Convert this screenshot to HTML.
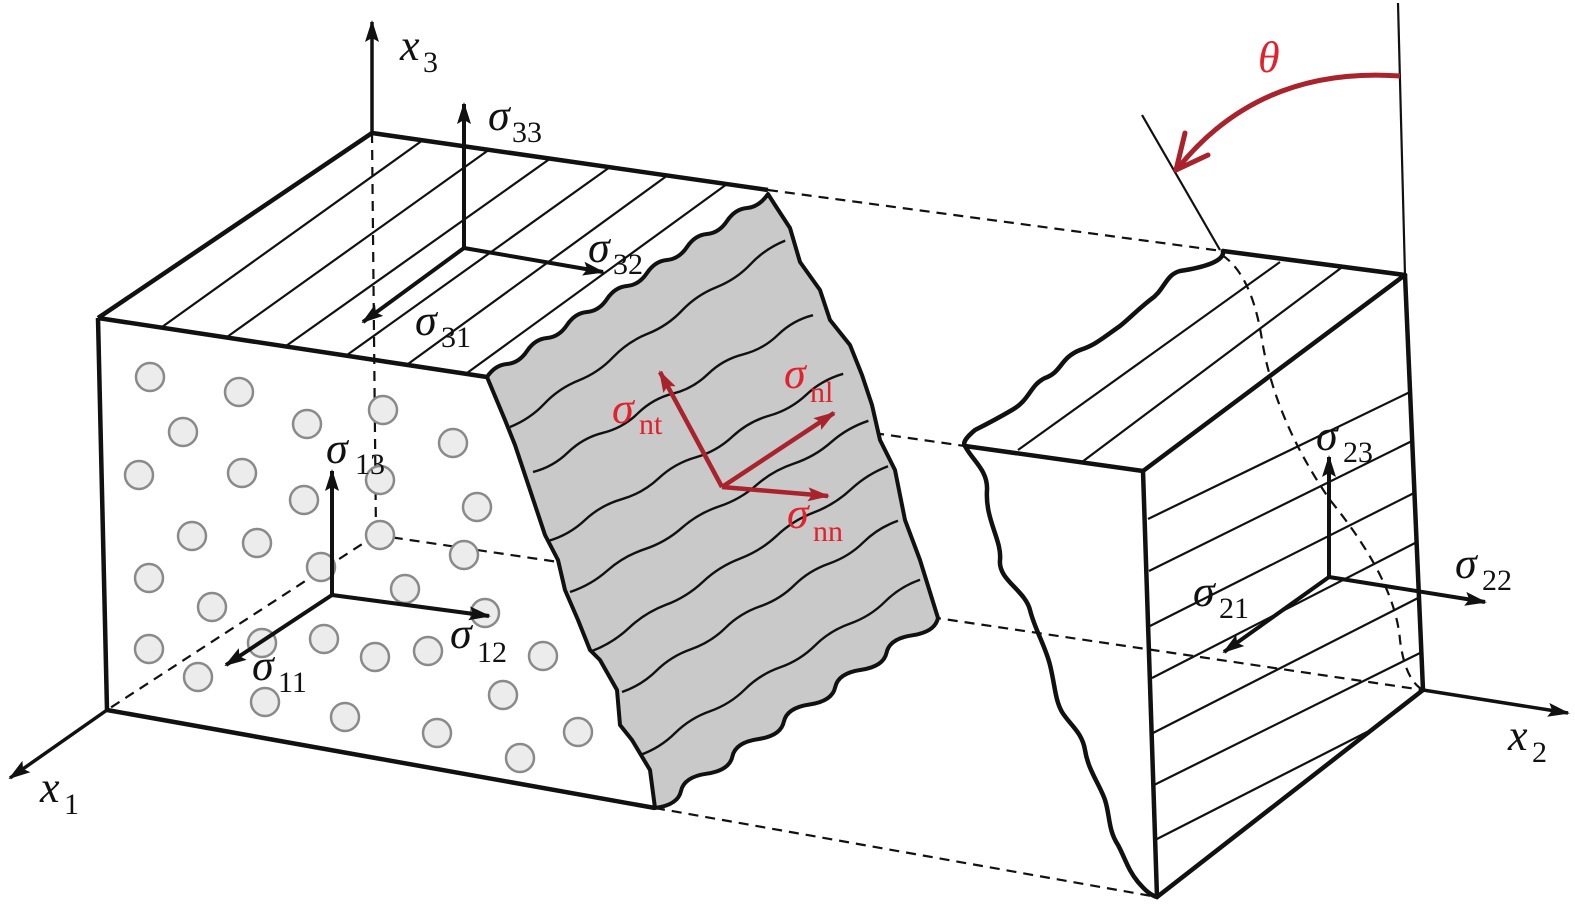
<!DOCTYPE html>
<html><head><meta charset="utf-8"><style>
html,body{margin:0;padding:0;background:#fff;}
svg{display:block;}
.t text{font-family:'Liberation Serif','DejaVu Serif',serif;}
.s{font-style:italic;font-size:44px;}
.b{font-size:30px;}
.r{fill:#e0222c;}
</style></head><body>
<svg width="1575" height="905" viewBox="0 0 1575 905" xmlns="http://www.w3.org/2000/svg">
<defs>
<marker id="ahb" markerWidth="22" markerHeight="14" refX="20" refY="7" orient="auto" markerUnits="userSpaceOnUse">
<path d="M0,0 L22,7 L0,14 L4,7 Z" fill="#111"/></marker>
<marker id="ahr" markerWidth="22" markerHeight="14" refX="20" refY="7" orient="auto" markerUnits="userSpaceOnUse">
<path d="M0,0 L22,7 L0,14 L4,7 Z" fill="#a8232c"/></marker>
</defs>

<g stroke="#111" stroke-width="2.2" stroke-dasharray="10,7" fill="none">
<line x1="372" y1="133" x2="376" y2="535"/>
<line x1="376" y1="535" x2="107" y2="710"/>
<line x1="376" y1="535" x2="1423" y2="690"/>
<line x1="768" y1="190" x2="1222" y2="251"/>
<line x1="487" y1="378" x2="965" y2="446"/>
<line x1="655" y1="808" x2="1157" y2="897"/>
<path d="M1222,255 Q1252,275 1262,340 Q1275,420 1330,500 Q1395,580 1400,640 Q1405,680 1423,690"/>
</g>

<g fill="#ececec" stroke="#8a8a8a" stroke-width="2.5">
<circle cx="150" cy="377" r="14"/><circle cx="239" cy="392" r="14"/><circle cx="183" cy="432" r="14"/>
<circle cx="307" cy="424" r="14"/><circle cx="383" cy="410" r="14"/><circle cx="453" cy="443" r="14"/>
<circle cx="139" cy="475" r="14"/><circle cx="242" cy="473" r="14"/><circle cx="304" cy="500" r="14"/>
<circle cx="380" cy="480" r="14"/><circle cx="477" cy="507" r="14"/><circle cx="192" cy="536" r="14"/>
<circle cx="257" cy="543" r="14"/><circle cx="380" cy="535" r="14"/><circle cx="464" cy="555" r="14"/>
<circle cx="149" cy="578" r="14"/><circle cx="321" cy="567" r="14"/><circle cx="212" cy="607" r="14"/>
<circle cx="405" cy="589" r="14"/><circle cx="485" cy="613" r="14"/><circle cx="149" cy="649" r="14"/>
<circle cx="262" cy="643" r="14"/><circle cx="324" cy="639" r="14"/><circle cx="375" cy="657" r="14"/>
<circle cx="428" cy="651" r="14"/><circle cx="543" cy="656" r="14"/><circle cx="198" cy="677" r="14"/>
<circle cx="265" cy="702" r="14"/><circle cx="345" cy="717" r="14"/><circle cx="437" cy="733" r="14"/>
<circle cx="503" cy="695" r="14"/><circle cx="578" cy="732" r="14"/><circle cx="520" cy="758" r="14"/>
</g>

<path fill="#c9c9c9" stroke="#111" stroke-width="4" stroke-linejoin="round"
d="M487,377 q8,-12 20,-13 t20,-13 t20,-13 t20,-13 t20,-13 t20,-13 t20,-13 t20,-13 t20,-13 t20,-13 t20,-13 t20,-13 t20,-13 t21,-14
L775,205 L790,228 L800,262 L820,290 L830,320 L850,345 L862,375 L872,405 L880,440 L895,470 L905,520 L920,560 L938,618
q-3,14 -25.7,17.3 t-25.7,17.3 t-25.7,17.3 t-25.7,17.3 t-25.7,17.3 t-25.7,17.3 t-25.7,17.3 t-25.7,17.3 t-25.7,17.3 t-25.7,17.3 t-26,17
L650,770 L632,740 L620,725 L617,690 L600,660 L590,650 L578,620 L565,590 L558,560 L545,535 L535,505 L525,475 L515,445 L505,420 Z"/>
<g stroke="#111" stroke-width="2.4" fill="none">
<path d="M510,427 q20,-8 34.4,-23.3 t34.4,-23.3 t34.4,-23.3 t34.4,-23.3 t34.4,-23.3 t34.4,-23.3 t34.4,-23.3 t34.4,-23.3"/>
<path d="M533,472 q20,-5 35,-19.6 t35,-19.6 t35,-19.6 t35,-19.6 t35,-19.6 t35,-19.6 t35,-19.6 t35,-19.6"/>
<path d="M548,541 q21,-6 36.9,-20.9 t36.9,-20.9 t36.9,-20.9 t36.9,-20.9 t36.9,-20.9 t36.9,-20.9 t36.9,-20.9 t36.9,-20.9"/>
<path d="M570,592 q21,-7 37.3,-21.4 t37.3,-21.4 t37.3,-21.4 t37.3,-21.4 t37.3,-21.4 t37.3,-21.4 t37.3,-21.4 t37.3,-21.4"/>
<path d="M592,651 q21,-8 37,-23.1 t37,-23.1 t37,-23.1 t37,-23.1 t37,-23.1 t37,-23.1 t37,-23.1 t37,-23.1"/>
<path d="M622,692 q20,-7 34.5,-21.4 t34.5,-21.4 t34.5,-21.4 t34.5,-21.4 t34.5,-21.4 t34.5,-21.4 t34.5,-21.4 t34.5,-21.4"/>
<path d="M640,755 q20,-7 35,-21.9 t35,-21.9 t35,-21.9 t35,-21.9 t35,-21.9 t35,-21.9 t35,-21.9 t35,-21.9"/>
</g>

<g stroke="#111" stroke-width="2.2">
<line x1="162" y1="327" x2="423" y2="140"/>
<line x1="227" y1="337" x2="490" y2="149"/>
<line x1="286" y1="346" x2="551" y2="158"/>
<line x1="347" y1="355" x2="610" y2="167"/>
<line x1="408" y1="364" x2="668" y2="175"/>
<line x1="467" y1="373" x2="727" y2="184"/>
</g>
<g stroke="#111" stroke-width="4.5" fill="none" stroke-linejoin="round">
<polyline points="98,318 372,133 768,190"/>
<line x1="98" y1="318" x2="487" y2="377"/>
<line x1="98" y1="318" x2="107" y2="710"/>
<line x1="107" y1="710" x2="655" y2="808"/>
</g>

<g stroke="#111" stroke-width="3.5" fill="none">
<line x1="372" y1="133" x2="372" y2="22" marker-end="url(#ahb)"/>
<line x1="107" y1="710" x2="10" y2="778" marker-end="url(#ahb)"/>
<line x1="1423" y1="690" x2="1568" y2="713" marker-end="url(#ahb)"/>
</g>
<g stroke="#111" stroke-width="4" fill="none">
<line x1="464" y1="248" x2="464" y2="104" marker-end="url(#ahb)"/>
<line x1="464" y1="248" x2="603" y2="272" marker-end="url(#ahb)"/>
<line x1="464" y1="248" x2="363" y2="322" marker-end="url(#ahb)"/>
<line x1="332" y1="595" x2="332" y2="471" marker-end="url(#ahb)"/>
<line x1="332" y1="595" x2="489" y2="616" marker-end="url(#ahb)"/>
<line x1="332" y1="595" x2="226" y2="665" marker-end="url(#ahb)"/>
</g>
<g stroke="#a8232c" stroke-width="4.5" fill="none">
<line x1="722" y1="487" x2="660" y2="372" marker-end="url(#ahr)"/>
<line x1="722" y1="487" x2="834" y2="413" marker-end="url(#ahr)"/>
<line x1="722" y1="487" x2="828" y2="496" marker-end="url(#ahr)"/>
</g>

<g stroke="#111" stroke-width="2.2">
<line x1="1018" y1="450" x2="1280" y2="262"/>
<line x1="1082" y1="462" x2="1341" y2="268"/>
<line x1="1148" y1="519" x2="1410" y2="392"/>
<line x1="1149" y1="571" x2="1412" y2="441"/>
<line x1="1150" y1="626" x2="1414" y2="493"/>
<line x1="1152" y1="678" x2="1417" y2="542"/>
<line x1="1153" y1="733" x2="1420" y2="597"/>
<line x1="1154" y1="785" x2="1422" y2="652"/>
<line x1="1155" y1="840" x2="1367" y2="732"/>
<line x1="1142" y1="115" x2="1220" y2="250"/>
<line x1="1398" y1="3" x2="1405" y2="275"/>
</g>
<g stroke="#111" stroke-width="4.5" fill="none" stroke-linejoin="round" stroke-linecap="round">
<path d="M1223,251 C1225,262 1200,268 1180,271 C1165,275 1165,290 1150,300 C1135,312 1130,318 1120,326 C1100,340 1095,345 1080,350 C1060,358 1062,372 1045,378 C1030,385 1030,400 1012,410 C995,420 985,425 975,430 C968,436 962,442 965,446 C972,460 988,470 987,490 C985,520 1002,540 1000,560 C998,580 1025,590 1030,610 C1035,630 1045,645 1050,665 C1055,685 1055,700 1062,712 C1070,725 1082,732 1085,750 C1088,770 1100,785 1105,800 C1110,815 1108,830 1118,845 C1125,858 1128,870 1138,882 C1145,890 1150,895 1157,897"/>
<line x1="1223" y1="251" x2="1405" y2="275"/>
<line x1="1405" y1="275" x2="1143" y2="471"/>
<line x1="1143" y1="471" x2="965" y2="446"/>
<line x1="1143" y1="471" x2="1157" y2="897"/>
<line x1="1157" y1="897" x2="1423" y2="690"/>
<line x1="1405" y1="275" x2="1423" y2="690"/>
</g>
<g stroke="#111" stroke-width="4" fill="none">
<line x1="1329" y1="577" x2="1329" y2="457" marker-end="url(#ahb)"/>
<line x1="1329" y1="577" x2="1485" y2="602" marker-end="url(#ahb)"/>
<line x1="1329" y1="577" x2="1224" y2="652" marker-end="url(#ahb)"/>
</g>
<path d="M1400,76 Q1260,66 1178,168" stroke="#a8232c" stroke-width="5" fill="none"/>
<path d="M1185,133 L1176,170 L1208,155" stroke="#a8232c" stroke-width="5" fill="none" stroke-linecap="round" stroke-linejoin="round"/>

<g class="t" fill="#111">
<text x="400" y="60" class="s">x</text><text x="423" y="72" class="b">3</text>
<text x="40" y="802" class="s">x</text><text x="64" y="814" class="b">1</text>
<text x="1508" y="750" class="s">x</text><text x="1532" y="762" class="b">2</text>
<text x="488" y="130" class="s">σ</text><text x="512" y="142" class="b">33</text>
<text x="588" y="262" class="s">σ</text><text x="613" y="274" class="b">32</text>
<text x="415" y="335" class="s">σ</text><text x="441" y="347" class="b">31</text>
<text x="326" y="463" class="s">σ</text><text x="355" y="474" class="b">13</text>
<text x="450" y="648" class="s">σ</text><text x="477" y="662" class="b">12</text>
<text x="252" y="680" class="s">σ</text><text x="278" y="692" class="b">11</text>
<text x="1316" y="450" class="s">σ</text><text x="1343" y="462" class="b">23</text>
<text x="1455" y="578" class="s">σ</text><text x="1482" y="590" class="b">22</text>
<text x="1193" y="606" class="s">σ</text><text x="1219" y="618" class="b">21</text>
<text x="612" y="423" class="s r">σ</text><text x="639" y="434" class="b r">nt</text>
<text x="784" y="388" class="s r">σ</text><text x="810" y="402" class="b r">nl</text>
<text x="787" y="528" class="s r">σ</text><text x="813" y="541" class="b r">nn</text>
<text x="1258" y="72" class="s r">θ</text>
</g>
</svg>
</body></html>
